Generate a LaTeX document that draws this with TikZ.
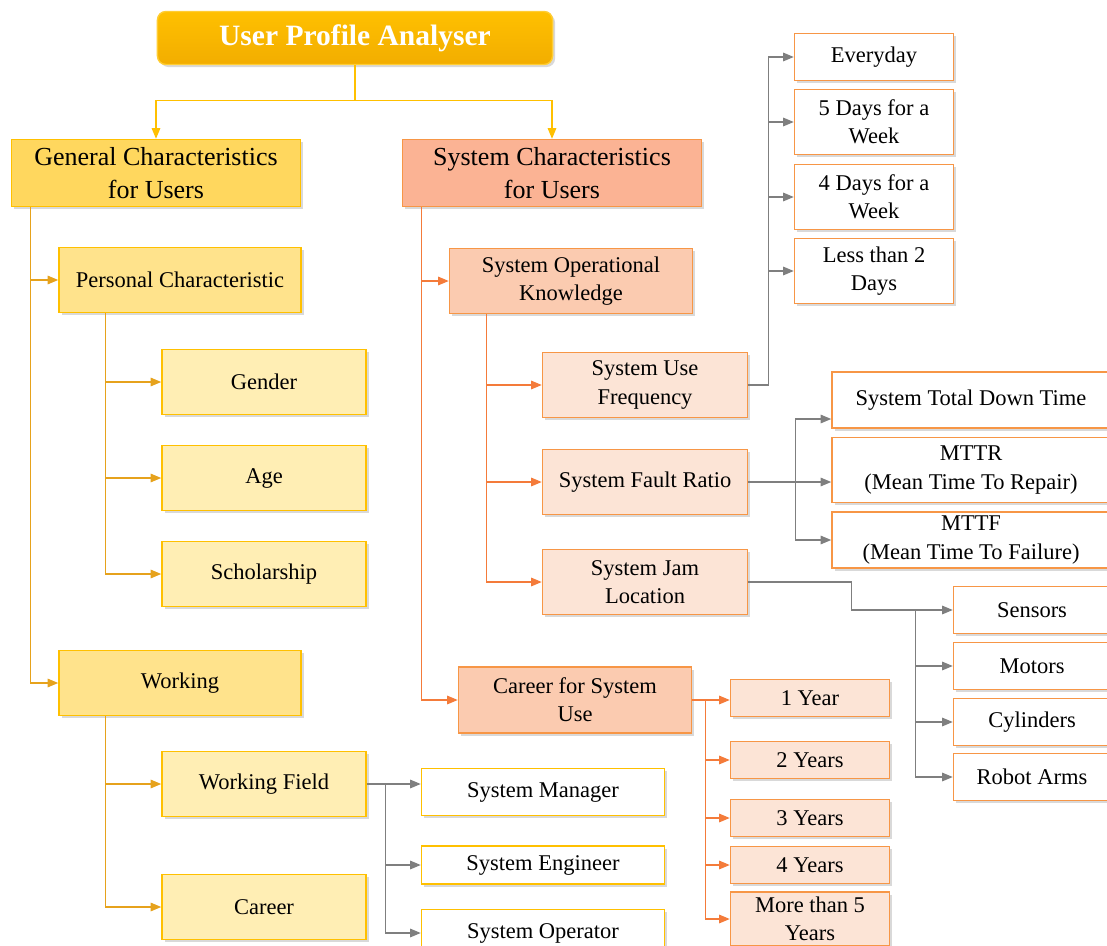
\documentclass[tikz,border=0pt]{standalone}
\usepackage{fontspec}
\setmainfont{Liberation Serif}
\usetikzlibrary{arrows.meta,shadows}

\definecolor{goldline}{HTML}{FFC000}
\definecolor{goldlink}{HTML}{E6A21C}
\definecolor{goldA}{HTML}{FFD75E}
\definecolor{goldB}{HTML}{FFE38C}
\definecolor{goldC}{HTML}{FFEEB4}
\definecolor{salmonA}{HTML}{FBB394}
\definecolor{salmonB}{HTML}{FBCBB0}
\definecolor{salmonC}{HTML}{FCE4D6}
\definecolor{orangeline}{HTML}{F79646}
\definecolor{orangelink}{HTML}{F47B3A}
\definecolor{greylink}{HTML}{7F7F7F}

\begin{document}
\begin{tikzpicture}[x=0.025cm, y=-0.025cm,
  box/.style={draw, line width=1pt, align=center, inner sep=2pt,
    font=\fontsize{16}{20}\selectfont,
    drop shadow={shadow xshift=1.8pt, shadow yshift=-1.8pt, fill=black, opacity=0.15}},
  titlebox/.style={box, draw=goldline!80!white, rounded corners=6pt,
    top color=goldline, bottom color=goldline!85!orange!95!black,
    text=white, font=\fontsize{21}{25}\selectfont\bfseries},
  genbox/.style={box, draw=goldline, fill=goldA, minimum height=1.675cm,
    font=\fontsize{18.5}{23}\selectfont},
  sysbox/.style={box, draw=orangeline, fill=salmonA, minimum height=1.675cm,
    font=\fontsize{18.5}{23}\selectfont},
  gmid/.style={box, draw=goldline, fill=goldB, minimum width=6.05cm, minimum height=1.625cm},
  gleaf/.style={box, draw=goldline, fill=goldC, minimum width=5.1cm, minimum height=1.625cm},
  gwhite/.style={box, draw=goldline, fill=white, minimum width=6.075cm},
  smid/.style={box, draw=orangeline, fill=salmonB, minimum height=1.625cm},
  sleaf/.style={box, draw=orangeline, fill=salmonC},
  swhite/.style={box, draw=orangeline, fill=white},
  glink/.style={draw=goldlink, line width=1pt, -{Triangle[length=7.5pt,width=6pt]}},
  tlink/.style={draw=goldline, line width=1pt, -{Triangle[length=7.5pt,width=6pt]}},
  olink/.style={draw=orangelink, line width=1pt, -{Triangle[length=7.5pt,width=6pt]}},
  elink/.style={draw=greylink, line width=1pt, -{Triangle[length=7.5pt,width=6pt]}}]

\useasboundingbox (0,0) rectangle (1107,946);
\clip (0,0) rectangle (1107,946);

% top and first level
\node[titlebox, minimum width=9.875cm, minimum height=1.325cm] (title) at (355,38) {User Profile Analyser};
\node[genbox, minimum width=7.225cm] (gen) at (156,173) {General Characteristics\\for Users};
\node[sysbox, minimum width=7.475cm] (sys) at (552,173) {System Characteristics\\for Users};

% general side
\node[gmid] (pers) at (180,280) {Personal Characteristic};
\node[gleaf] (gender) at (264,382) {Gender};
\node[gleaf] (age) at (264,478) {Age};
\node[gleaf] (schol) at (264,574) {Scholarship};
\node[gmid] (work) at (180,683) {Working};
\node[gleaf] (wfield) at (264,784) {Working Field};
\node[gleaf] (career) at (264,907) {Career};
\node[gwhite, minimum height=1.175cm] (mgr) at (543,792) {System Manager};
\node[gwhite, minimum height=0.95cm] (eng) at (543,865) {System Engineer};
\node[gwhite, minimum height=1.175cm] (opr) at (543,933) {System Operator};

% system side
\node[smid, minimum width=6.075cm] (sok) at (571,281) {System Operational\\Knowledge};
\node[sleaf, minimum width=5.125cm, minimum height=1.625cm] (suf) at (645,385) {System Use\\Frequency};
\node[sleaf, minimum width=5.125cm, minimum height=1.625cm] (sfr) at (645,482) {System Fault Ratio};
\node[sleaf, minimum width=5.125cm, minimum height=1.625cm] (sjl) at (645,582) {System Jam\\Location};
\node[smid, minimum width=5.825cm, minimum height=1.65cm] (cfsu) at (575,700) {Career for System\\Use};

\node[swhite, minimum width=3.975cm, minimum height=1.175cm] (every) at (874,57) {Everyday};
\node[swhite, minimum width=3.975cm, minimum height=1.625cm] (fived) at (874,122) {5 Days for a\\Week};
\node[swhite, minimum width=3.975cm, minimum height=1.625cm] (fourd) at (874,197) {4 Days for a\\Week};
\node[swhite, minimum width=3.975cm, minimum height=1.625cm] (lesstwo) at (874,271) {Less than 2\\Days};

\node[swhite, minimum width=6.95cm, minimum height=1.4cm] (tdt) at (971,400) {System Total Down Time};
\node[swhite, minimum width=6.95cm, minimum height=1.625cm] (mttr) at (971,470) {MTTR\\(Mean Time To Repair)};
\node[swhite, minimum width=6.95cm, minimum height=1.4cm] (mttf) at (971,540) {MTTF\\(Mean Time To Failure)};

\node[swhite, minimum width=3.925cm, minimum height=1.175cm] (sens) at (1032,610) {Sensors};
\node[swhite, minimum width=3.925cm, minimum height=1.175cm] (mot) at (1032,666) {Motors};
\node[swhite, minimum width=3.925cm, minimum height=1.175cm] (cyl) at (1032,722) {Cylinders};
\node[swhite, minimum width=3.925cm, minimum height=1.175cm] (rob) at (1032,777) {Robot Arms};

\node[sleaf, minimum width=3.975cm, minimum height=0.925cm] (yone) at (810,698) {1 Year};
\node[sleaf, minimum width=3.975cm, minimum height=0.925cm] (ytwo) at (810,760) {2 Years};
\node[sleaf, minimum width=3.975cm, minimum height=0.925cm] (ythree) at (810,818) {3 Years};
\node[sleaf, minimum width=3.975cm, minimum height=0.925cm] (yfour) at (810,865) {4 Years};
\node[sleaf, minimum width=3.975cm, minimum height=1.35cm] (yfive) at (810,919) {More than 5\\Years};

% links
\draw[tlink] (title.south) -- ++(0,35) -| (gen.north);
\draw[tlink] (title.south) -- ++(0,35) -| (sys.north);

\draw[glink] ([xshift=0.5cm]gen.south west) |- (pers.west);
\draw[glink] ([xshift=0.5cm]gen.south west) |- (work.west);
\foreach \n in {gender,age,schol}
  \draw[glink] ([xshift=1.175cm]pers.south west) |- (\n.west);
\foreach \n in {wfield,career}
  \draw[glink] ([xshift=1.175cm]work.south west) |- (\n.west);

\draw[elink] (wfield.east) -- (wfield.east -| mgr.west);
\foreach \n in {eng,opr}
  \draw[elink] ([xshift=0.475cm]wfield.east) |- (\n.west);

\draw[olink] ([xshift=0.5cm]sys.south west) |- (sok.west);
\draw[olink] ([xshift=0.5cm]sys.south west) |- (cfsu.west);
\foreach \n in {suf,sfr,sjl}
  \draw[olink] ([xshift=0.95cm]sok.south west) |- (\n.west);

\draw[olink] (cfsu.east) -- (cfsu.east -| yone.west);
\foreach \n in {ytwo,ythree,yfour,yfive}
  \draw[olink] ([xshift=0.325cm]cfsu.east) |- (\n.west);

\foreach \n in {every,fived,fourd,lesstwo}
  \draw[elink] (suf.east) -- ++(20,0) |- (\n.west);

\draw[elink] (sfr.east) -- (sfr.east -| mttr.west);
\draw[elink] ([xshift=1.175cm]sfr.east) |- ([yshift=-0.475cm]tdt.west);
\draw[elink] ([xshift=1.175cm]sfr.east) |- (mttf.west);

\draw[elink] (sjl.east) -- ++(103,0) |- (sens.west);
\foreach \n in {mot,cyl,rob}
  \draw[elink] ([xshift=-0.925cm]sens.west) |- (\n.west);
\end{tikzpicture}
\end{document}
